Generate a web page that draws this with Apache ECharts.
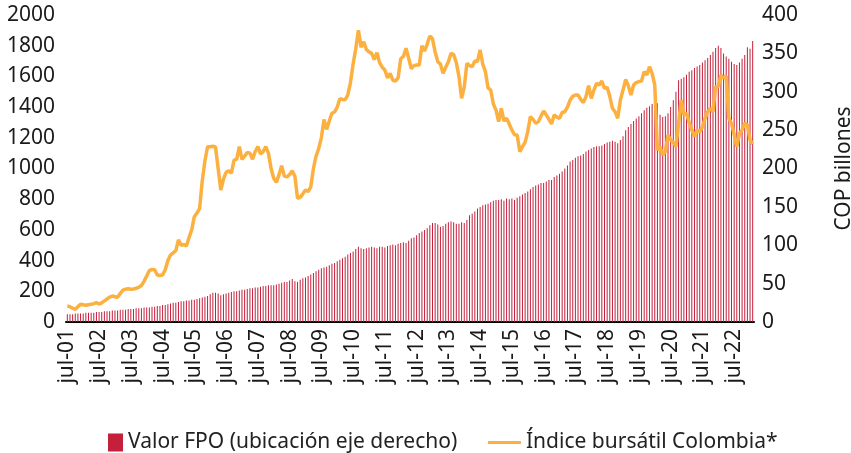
<!DOCTYPE html>
<html>
<head>
<meta charset="utf-8">
<script src="https://cdn.jsdelivr.net/npm/echarts@6/dist/echarts.min.js"></script>
<style>
  html, body { margin: 0; padding: 0; background: #fff; }
  #grafico { width: 851px; height: 453px; }
</style>
</head>
<body>
<div id="grafico"></div>
<script>
    // meses en español para las etiquetas del eje x (jul-01 ... feb-23)
    var meses = ['ene', 'feb', 'mar', 'abr', 'may', 'jun', 'jul', 'ago', 'sep', 'oct', 'nov', 'dic'];

    // Valor FPO, COP billones (eje derecho), mensual desde jul-01
    var valorFPO = [
        10, 10, 10, 11, 11, 11, 11, 12, 12, 12, 12, 13,
        13, 13, 14, 14, 14, 15, 15, 15, 16, 16, 16, 17,
        17, 17, 18, 18, 18, 19, 19, 19, 20, 20, 21, 21,
        22, 22, 23, 24, 25, 25, 26, 27, 27, 28, 28, 29,
        29, 30, 31, 32, 33, 34, 36, 38, 38, 37, 35, 36,
        37, 38, 39, 40, 40, 41, 42, 42, 43, 44, 44, 45,
        45, 46, 47, 47, 48, 48, 48, 49, 50, 51, 52, 52,
        54, 56, 53, 52, 55, 57, 58, 60, 62, 64, 66, 68,
        70, 71, 72, 74, 76, 77, 79, 81, 83, 85, 88, 90,
        92, 95, 98, 96, 95, 96, 97, 98, 97, 96, 98, 98,
        97, 99, 100, 101, 100, 102, 103, 104, 103, 106, 109, 110,
        113, 116, 118, 120, 122, 126, 129, 129, 127, 124, 125, 128,
        130, 131, 130, 128, 128, 130, 129, 133, 139, 141, 144, 148,
        150, 152, 153, 154, 156, 158, 159, 159, 160, 158, 161, 160,
        161, 159, 162, 164, 166, 168, 170, 173, 176, 178, 179, 181,
        181, 183, 185, 185, 189, 191, 193, 196, 200, 204, 209, 211,
        214, 216, 217, 219, 222, 224, 226, 228, 229, 229, 230, 232,
        234, 235, 236, 235, 233, 237, 242, 250, 254, 258, 262, 265,
        268, 272, 276, 279, 281, 284, 288, 285, 270, 267, 268, 272,
        280, 289, 300, 315, 317, 319, 322, 326, 328, 331, 333, 335,
        338, 341, 344, 348, 352, 357, 360, 357, 350, 346, 343, 339,
        336, 335, 338, 343, 348, 358, 356, 366
    ];

    // Índice bursátil Colombia (eje izquierdo), mensual desde jul-01
    var indiceColombia = [
        104, 100, 90, 83, 100, 115, 112, 109, 112, 115, 120, 126,
        117, 125, 138, 150, 162, 169, 165, 161, 185, 208, 214, 217,
        213, 215, 220, 226, 238, 265, 300, 335, 343, 340, 306, 303,
        306, 340, 400, 436, 450, 465, 535, 500, 505, 495, 550, 600,
        686, 710, 740, 920, 1050, 1142, 1142, 1145, 1140, 1000, 860, 930,
        975, 985, 970, 1055, 1060, 1142, 1060, 1080, 1105, 1100, 1060, 1110,
        1142, 1095, 1110, 1142, 1100, 1000, 936, 910, 960, 1018, 950, 945,
        960, 985, 950, 806, 812, 835, 860, 850, 880, 1000, 1080, 1130,
        1200, 1320, 1255, 1310, 1360, 1368, 1400, 1455, 1450, 1448, 1480, 1560,
        1680, 1780, 1900, 1790, 1826, 1775, 1760, 1750, 1710, 1754, 1690, 1660,
        1642, 1590, 1620, 1575, 1570, 1590, 1715, 1730, 1783, 1718, 1650, 1670,
        1674, 1675, 1800, 1765, 1810, 1863, 1845, 1760, 1696, 1680, 1620, 1660,
        1696, 1750, 1742, 1690, 1600, 1457, 1530, 1685, 1670, 1663, 1700, 1696,
        1772, 1680, 1631, 1525, 1511, 1420, 1380, 1305, 1392, 1310, 1327, 1290,
        1251, 1220, 1218, 1110, 1142, 1170, 1240, 1338, 1320, 1295, 1305, 1340,
        1375, 1349, 1320, 1290, 1349, 1335, 1327, 1365, 1370, 1400, 1446, 1470,
        1479, 1479, 1450, 1429, 1468, 1540, 1457, 1510, 1555, 1544, 1570, 1522,
        1529, 1470, 1392, 1370, 1327, 1446, 1511, 1581, 1540, 1479, 1544, 1560,
        1566, 1570, 1631, 1609, 1663, 1620, 1544, 1120, 1142, 1088, 1110, 1218,
        1186, 1170, 1142, 1295, 1446, 1349, 1360, 1300, 1251, 1207, 1251, 1240,
        1270, 1327, 1370, 1392, 1370, 1533, 1533, 1609, 1588, 1603, 1327, 1295,
        1220, 1142, 1229, 1251, 1295, 1284, 1186, 1160
    ];

    var fechas = [];
    for (var k = 0; k < valorFPO.length; k++) {
        var m = (6 + k) % 12;
        var anio = 2001 + Math.floor((6 + k) / 12);
        fechas.push(meses[m] + '-' + String(anio).slice(2));
    }

    var fuente = 'Noto Sans';
    var myChart = echarts.init(document.getElementById('grafico'), null, { renderer: 'canvas' });

    var option = {
        animation: false,
        textStyle: { fontFamily: fuente },
        grid: { left: 66, right: 97, top: 15, bottom: 131, outerBoundsMode: 'none', containLabel: false },
        legend: [{
            left: 103,
            top: 427,
            icon: 'rect',
            itemWidth: 15,
            itemHeight: 18,
            itemGap: 7,
            textStyle: { fontSize: 21, color: '#222', fontFamily: fuente },
            data: ['Valor FPO (ubicación eje derecho)']
        }, {
            left: 483,
            top: 427,
            icon: 'rect',
            itemWidth: 33,
            itemHeight: 3,
            textStyle: { fontSize: 21, color: '#222', fontFamily: fuente, lineHeight: 18 },
            data: ['Índice bursátil Colombia*']
        }],
        xAxis: {
            type: 'category',
            data: fechas,
            axisLine: { lineStyle: { color: '#000', width: 2 } },
            axisTick: { show: false },
            axisLabel: {
                interval: 11,
                rotate: 90,
                fontSize: 21,
                color: '#1a1a1a',
                margin: 7
            }
        },
        yAxis: [{
            type: 'value',
            min: 0,
            max: 2000,
            interval: 200,
            splitLine: { show: false },
            axisLine: { show: false },
            axisTick: { show: false },
            axisLabel: {
                fontSize: 21,
                color: '#1a1a1a',
                margin: 11,
                formatter: function (v) { return String(v); }
            }
        }, {
            type: 'value',
            min: 0,
            max: 400,
            interval: 50,
            position: 'right',
            name: 'COP billones',
            nameLocation: 'middle',
            nameRotate: 90,
            nameGap: 80,
            nameTextStyle: { fontSize: 21, color: '#1a1a1a' },
            splitLine: { show: false },
            axisLine: { show: false },
            axisTick: { show: false },
            axisLabel: { fontSize: 21, color: '#1a1a1a', margin: 8 }
        }],
        series: [{
            name: 'Valor FPO (ubicación eje derecho)',
            type: 'bar',
            yAxisIndex: 1,
            data: valorFPO,
            barWidth: 1,
            itemStyle: { color: '#c41f3b' }
        }, {
            name: 'Índice bursátil Colombia*',
            type: 'line',
            yAxisIndex: 0,
            data: indiceColombia,
            symbol: 'none',
            lineStyle: { color: '#fbb040', width: 3.5 },
            itemStyle: { color: '#fbb040' }
        }]
    };

    myChart.setOption(option);
    window.addEventListener('resize', myChart.resize);
</script>
</body>
</html>
